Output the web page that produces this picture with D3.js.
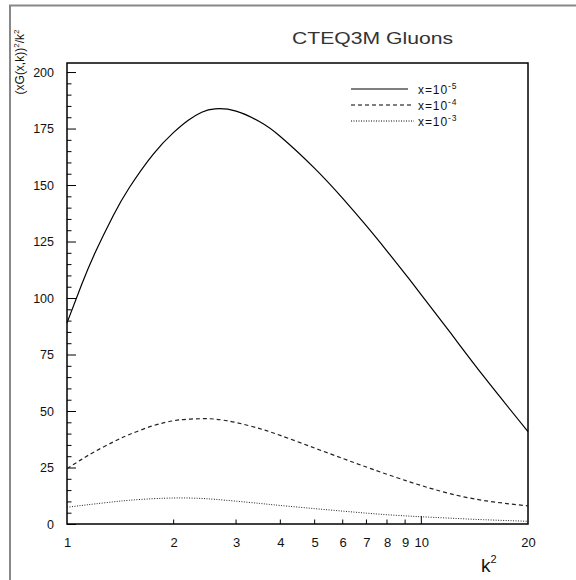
<!DOCTYPE html>
<html>
<head>
<meta charset="utf-8">
<script src="https://cdn.jsdelivr.net/npm/d3@7"></script>
<style>
  body { margin: 0; background: #fff; }
  text { font-family: "Liberation Sans", Arial, sans-serif; fill: #111; }
</style>
</head>
<body>
<div id="chart-area"></div>
<script>
// SVG Size
let width = 576,
	height = 580;

// k^2 sample points
let kSq = [1, 1.1, 1.2, 1.35, 1.5, 1.75, 2, 2.2, 2.4, 2.62, 3, 3.5, 4, 5, 6, 7, 8, 9, 10, 12, 15, 20];

// (xG(x,k))^2/k^2 for each x
let gluon5 = [89, 106, 120, 136.4, 148.9, 163.6, 173.3, 178.7, 182.2, 183.7, 182.7, 178, 171.5, 157.4, 144.1, 131.9, 120.8, 110.7, 101.4, 85.2, 65.3, 40.9];
let gluon4 = [24.5, 28.6, 32.1, 36.3, 39.6, 43.5, 45.7, 46.4, 46.6, 46.4, 44.9, 42.2, 39.2, 33.6, 29.0, 25.2, 22.0, 19.3, 17.0, 13.5, 10.4, 8.0];
let gluon3 = [7.4, 8.2, 8.9, 9.8, 10.5, 11.2, 11.5, 11.5, 11.3, 10.9, 10.1, 9.1, 8.2, 6.8, 5.7, 4.8, 4.1, 3.6, 3.2, 2.6, 1.9, 1.2];

let seriesExp = ["-5", "-4", "-3"];
let seriesDash = ["", "4,3", "1,1.5"];
let seriesVals = [gluon5, gluon4, gluon3];

let xTicks = [1, 2, 3, 4, 5, 6, 7, 8, 9, 10, 20];
let yMajor = [0, 25, 50, 75, 100, 125, 150, 175, 200];
let yMinor = d3.range(0, 205, 5);

let plotL = 67, plotR = 528, plotT = 63, plotB = 524;

let xScale = d3.scaleLog()
			.domain([1, 20])
			.range([plotL, plotR])

let yScale = d3.scaleLinear()
			.domain([0, 204])
			.range([plotB, plotT])

let svg = d3.select("#chart-area")
			.append('svg')
			.attr('width', width)
			.attr('height', height);

// outer frame (only left/top edges visible)
svg.append('path')
	.attr('d', 'M10,580 V5.5 H576')
	.attr('fill', 'none')
	.attr('stroke', '#888')
	.attr('stroke-width', 2)

// title
svg.append('text')
	.attr('x', 292)
	.attr('y', 43.5)
	.attr('font-size', 16.5)
	.attr('textLength', 161)
	.attr('lengthAdjust', 'spacingAndGlyphs')
	.style('fill', '#333')
	.text('CTEQ3M Gluons')

// y axis: long ticks every 25, short every 5
let yAxis = d3.axisLeft(yScale)
			.tickValues(yMajor)
			.tickSize(-9)
			.tickPadding(13)
			.tickFormat(d3.format('d'))

let yMinorAxis = d3.axisLeft(yScale)
			.tickValues(yMinor.filter(d => d % 25 != 0))
			.tickSize(-4.5)
			.tickFormat('')

svg.append('g')
	.attr('class', 'axis y-axis')
	.attr('transform', 'translate(' + plotL + ',0)')
	.call(yAxis)
	.call(g => g.select('.domain').remove())
	.selectAll('text')
	.attr('font-size', 12.5)
	.attr('font-family', '"Liberation Sans", Arial, sans-serif')

svg.append('g')
	.attr('transform', 'translate(' + plotL + ',0)')
	.call(yMinorAxis)
	.call(g => g.select('.domain').remove())

// x axis (log)
let xAxis = d3.axisBottom(xScale)
			.tickValues(xTicks)
			.tickSize(0)
			.tickPadding(14)
			.tickFormat(d3.format('d'))

svg.append('g')
	.attr('class', 'axis x-axis')
	.attr('transform', 'translate(0,' + plotB + ')')
	.call(xAxis)
	.call(g => g.select('.domain').remove())
	.selectAll('text')
	.attr('font-size', 13)
	.attr('font-family', '"Liberation Sans", Arial, sans-serif')

svg.append('g')
	.selectAll('line')
	.data(xTicks.filter(d => d > 1 && d < 20))
	.enter()
	.append('line')
	.attr('x1', d => xScale(d))
	.attr('x2', d => xScale(d))
	.attr('y1', plotB)
	.attr('y2', d => d == 10 ? plotB - 8 : plotB - 4.5)
	.attr('stroke', '#000')

// plot frame
svg.append('rect')
	.attr('x', plotL)
	.attr('y', plotT)
	.attr('width', plotR - plotL)
	.attr('height', plotB - plotT)
	.attr('fill', 'none')
	.attr('stroke', '#000')
	.attr('stroke-width', 1.5)

// axis titles
let yt = svg.append('text')
	.attr('transform', 'translate(24,62) rotate(-90)')
	.attr('text-anchor', 'middle')
	.attr('font-size', 12)
yt.append('tspan').text('(xG(x,k))')
yt.append('tspan').attr('dy', -5).attr('font-size', 8).text('2')
yt.append('tspan').attr('dy', 5).text('/k')
yt.append('tspan').attr('dy', -5).attr('font-size', 8).text('2')

let xt = svg.append('text')
	.attr('x', 481)
	.attr('y', 572)
	.attr('font-size', 19)
xt.append('tspan').text('k')
xt.append('tspan').attr('dy', -9).attr('font-size', 11).text('2')

// curves
let line = d3.line()
		.x((d, i) => xScale(kSq[i]))
		.y(d => yScale(d))
		.curve(d3.curveNatural)

svg.selectAll('path.curve')
	.data(seriesVals)
	.enter()
	.append('path')
	.attr('class', 'curve')
	.attr('d', d => line(d))
	.attr('fill', 'none')
	.attr('stroke', (d, i) => i == 0 ? '#000' : '#222')
	.attr('stroke-width', (d, i) => i == 2 ? 1 : 1.2)
	.attr('stroke-dasharray', (d, i) => seriesDash[i])

// legend
let legend = svg.selectAll('g.legend')
	.data(seriesExp)
	.enter()
	.append('g')
	.attr('class', 'legend')
	.attr('transform', (d, i) => 'translate(0,' + (89 + i * 16) + ')')

legend.append('line')
	.attr('x1', 351)
	.attr('x2', (d, i) => i == 0 ? 408 : 414)
	.attr('stroke', '#000')
	.attr('stroke-width', (d, i) => i == 2 ? 1 : 1.2)
	.attr('stroke-dasharray', (d, i) => seriesDash[i])

let lt = legend.append('text')
	.attr('x', 418)
	.attr('y', 4.5)
	.attr('font-size', 12)
	.attr('letter-spacing', 0.9)
lt.append('tspan').text('x=10')
lt.append('tspan').attr('dy', -4.5).attr('font-size', 8.5).text(d => d)
</script>
</body>
</html>
